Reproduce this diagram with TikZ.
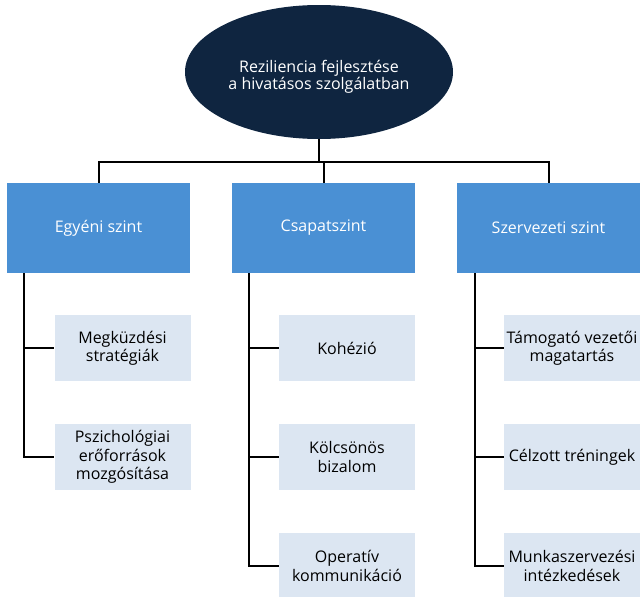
\documentclass[tikz,border=0pt]{standalone}
\usepackage{fontspec}
\setmainfont{Open Sans}
\usetikzlibrary{shapes.geometric}
\definecolor{navy}{HTML}{0F2540}
\definecolor{midblue}{HTML}{4A90D4}
\definecolor{lightblue}{HTML}{DCE6F2}
\tikzset{
  x=1pt, y=-1pt,
  topnode/.style={ellipse, fill=navy, minimum width=268pt, minimum height=134pt, inner sep=0pt},
  toptext/.style={text=white, inner sep=0pt, align=center, font=\fontsize{16}{17}\selectfont},
  levelbox/.style={rectangle, fill=midblue, text=white, minimum width=183pt, minimum height=90pt, inner sep=0pt, font=\fontsize{16}{18}\selectfont},
  itembox/.style={rectangle, fill=lightblue, text=black, minimum width=136pt, minimum height=66pt, inner sep=0pt, align=center, font=\fontsize{16}{18.3}\selectfont},
  link/.style={draw=black, line width=2pt}
}
\begin{document}
\begin{tikzpicture}
\useasboundingbox (0,0) rectangle (641,597);
\node[topnode] (top) at (319,72) {};
\node[toptext] (title) at (319,77) {Reziliencia fejlesztése\\a hivatásos szolgálatban};
\node[levelbox] (b1) at (98.5,228) {Egyéni szint};
\node[levelbox] (b2) at (323.5,228) {Csapatszint};
\node[levelbox] (b3) at (548.5,228) {Szervezeti szint};
\node[itembox] (c11) at (122.5,348) {Megküzdési\\stratégiák};
\node[itembox] (c12) at (122.5,457) {Pszichológiai\\erőforrások\\mozgósítása};
\node[itembox] (c21) at (347,348) {Kohézió};
\node[itembox] (c22) at (347,457) {Kölcsönös\\bizalom};
\node[itembox] (c23) at (347,566) {Operatív\\kommunikáció};
\node[itembox] (c31) at (572,348) {Támogató vezetői\\magatartás};
\node[itembox] (c32) at (572,457) {Célzott tréningek};
\node[itembox] (c33) at (572,566) {Munkaszervezési\\intézkedések};
\coordinate (bus) at (319,162);
\draw[link] (top.south) -- (bus);
\draw[link] (b1.north) -- (b1.north |- bus) -- (b3.north |- bus) -- (b3.north);
\draw[link] (b2.north) -- (b2.north |- bus);
\coordinate (v1) at ([xshift=17]b1.south west);
\coordinate (v2) at ([xshift=17]b2.south west);
\coordinate (v3) at ([xshift=18]b3.south west);
\draw[link] (v1) |- (c12.west);
\draw[link] (v1 |- c11.west) -- (c11.west);
\draw[link] (v2) |- (c23.west);
\draw[link] (v2 |- c21.west) -- (c21.west);
\draw[link] (v2 |- c22.west) -- (c22.west);
\draw[link] (v3) |- (c33.west);
\draw[link] (v3 |- c31.west) -- (c31.west);
\draw[link] (v3 |- c32.west) -- (c32.west);
\end{tikzpicture}
\end{document}
